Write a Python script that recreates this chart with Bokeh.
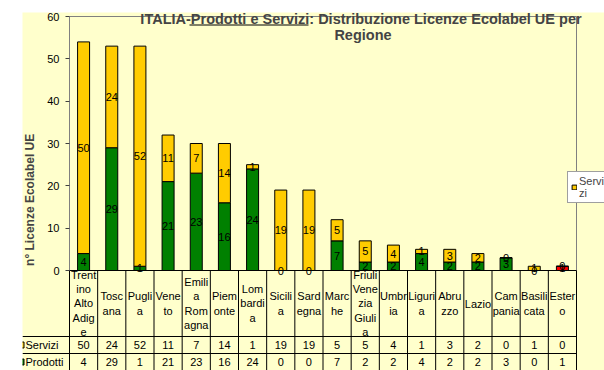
import math
from bokeh.plotting import figure
from bokeh.models import (ColumnDataSource, Range1d, FixedTicker, Label, Legend,
                          LegendItem, Spacer, LinearAxis)
from bokeh.layouts import column, row
from bokeh.embed import file_html
from bokeh.resources import INLINE
from bokeh.core.properties import value

# ---------------- data ----------------
regions = ["Trentino Alto Adige", "Toscana", "Puglia", "Veneto", "Emilia Romagna",
           "Piemonte", "Lombardia", "Sicilia", "Sardegna", "Marche",
           "Friuli Venezia Giulia", "Umbria", "Liguria", "Abruzzo", "Lazio",
           "Campania", "Basilicata", "Estero"]
region_labels = ["Trent\nino\nAlto\nAdig\ne", "Tosc\nana", "Pugli\na", "Vene\nto",
                 "Emili\na\nRom\nagna", "Piem\nonte", "Lom\nbardi\na", "Sicili\na",
                 "Sard\negna", "Marc\nhe", "Friuli\nVene\nzia\nGiuli\na", "Umbr\nia",
                 "Liguri\na", "Abru\nzzo", "Lazio", "Cam\npania", "Basili\ncata",
                 "Ester\no"]
servizi = [50, 24, 52, 11, 7, 14, 1, 19, 19, 5, 5, 4, 1, 3, 2, 0, 1, 0]
prodotti = [4, 29, 1, 21, 23, 16, 24, 0, 0, 7, 2, 2, 4, 2, 2, 3, 0, 1]
y_ticks = [0, 10, 20, 30, 40, 50, 60]
series_names = ["Servizi", "Prodotti"]
legend_text = "Servi\nzi"
title_line1 = "ITALIA-Prodotti e Servizi: Distribuzione Licenze Ecolabel UE  per"
title_line2 = "Regione"
y_title = "n\u00b0 Licenze  Ecolabel  UE"

# ---------------- layout (page pixels) ----------------
PX0, PY0, PX1, PY1 = 22, 12, 604, 370   # yellow chart area on the page
FL, FR, FT = 69, 576, 16                 # plot area
ZERO = 270
n = len(regions)
cat_w = (FR - FL) / n
ymax = y_ticks[-1]
ppu = (ZERO - FT) / ymax


def dx(px):
    return -0.5 + (px - FL) / cat_w


def dy(px):
    return (ZERO - px) / ppu


FONT = "Liberation Sans"
YELLOW = "#FFCC00"
GREEN = "#008000"
RED = "#FF0000"
BG = "#FFFFCC"
GRAY = "#808080"

p = figure(width=PX1 - PX0, height=PY1 - PY0,
           x_range=Range1d(dx(PX0), dx(PX1)), y_range=Range1d(dy(PY1), dy(PY0)),
           output_backend="svg", toolbar_location=None,
           x_axis_location=None, y_axis_location=None,
           min_border_left=0, min_border_right=0, min_border_top=0, min_border_bottom=0)
p.background_fill_color = BG
p.border_fill_color = BG
p.outline_line_color = None
p.xgrid.visible = False
p.ygrid.visible = False

# y axis drawn by the library at the plot-area's left edge
ax = LinearAxis(fixed_location=-0.5, ticker=FixedTicker(ticks=y_ticks))
ax.axis_line_color = None
ax.minor_tick_line_color = None
ax.major_tick_in = 0
ax.major_tick_out = 4
ax.major_label_standoff = 6
ax.major_tick_line_color = "#404040"
ax.major_label_text_font = FONT
ax.major_label_text_font_size = "11px"
ax.major_label_text_color = "black"
p.add_layout(ax, "left")

# plot-area borders (gray)
p.segment(x0=[-0.5, -0.5, n - 0.5], x1=[n - 0.5, -0.5, n - 0.5],
          y0=[ymax, ymax, ymax], y1=[ymax, 0, 0], line_color=GRAY, line_width=1)

xs = list(range(n))
src = ColumnDataSource(dict(
    x=xs,
    prod=prodotti,
    serv=servizi,
    top=[a + b for a, b in zip(prodotti, servizi)],
    pcol=[RED if r == "Estero" else GREEN for r in regions],
    prod_mid=[a / 2 for a in prodotti],
    serv_mid=[a + b / 2 for a, b in zip(prodotti, servizi)],
    prod_txt=[str(v) for v in prodotti],
    serv_txt=[str(v) for v in servizi],
    lab=region_labels,
))

BW = 12 / cat_w
rp = p.vbar(x="x", bottom=0, top="prod", width=BW, fill_color="pcol",
            line_color="black", line_width=1, source=src)
rs = p.vbar(x="x", bottom="prod", top="top", width=BW, fill_color=YELLOW,
            line_color="black", line_width=1, source=src)

txt_kw = dict(text_font=value(FONT), text_font_size="11px", text_color="black",
              text_align="center", text_baseline="middle", source=src)
p.text(x="x", y="prod_mid", text="prod_txt", **txt_kw)
p.text(x="x", y="serv_mid", text="serv_txt", **txt_kw)

# ---------------- data table ----------------
ROW_TOP, ROW_S, ROW_P, ROW_END = 270, 336, 353, 370
p.text(x="x", y=dy((ROW_TOP + ROW_S) / 2), text="lab", text_line_height=1.18, **txt_kw)
p.text(x="x", y=dy((ROW_S + ROW_P) / 2), text="serv_txt", **txt_kw)
p.text(x="x", y=dy((ROW_P + ROW_END) / 2), text="prod_txt", **txt_kw)

bounds = [k - 0.5 for k in range(n + 1)]
p.segment(x0=bounds, x1=bounds, y0=[0] * len(bounds), y1=[dy(ROW_END + 5)] * len(bounds),
          line_color="black", line_width=1)
p.segment(x0=[-0.5, dx(PX0), dx(PX0)], x1=[n - 0.5] * 3,
          y0=[0, dy(ROW_S), dy(ROW_P)], y1=[0, dy(ROW_S), dy(ROW_P)],
          line_color="black", line_width=1)

row_centers = [dy((ROW_S + ROW_P) / 2), dy((ROW_P + ROW_END) / 2)]
# legend keys of the table rows (partly cut by the chart edge, as in the original)
p.scatter(x=[dx(20.5)] * 2, y=row_centers, marker="square", size=6,
          fill_color=[YELLOW, GREEN], line_color="black", line_width=1)
for name, yc in zip(series_names, row_centers):
    p.add_layout(Label(x=dx(25), y=yc, text=name, text_color="black",
                       text_font=FONT, text_font_size="11px",
                       text_align="left", text_baseline="middle"))

# ---------------- titles ----------------
p.add_layout(Label(x=dx(362.5), y=dy(18.5), text=title_line1, text_font=FONT,
                   text_font_size="14.5px", text_font_style="bold",
                   text_align="center", text_baseline="alphabetic"))
p.add_layout(Label(x=dx(362.5), y=dy(34.5), text=title_line2, text_font=FONT,
                   text_font_size="14.5px", text_font_style="bold",
                   text_align="center", text_baseline="alphabetic"))
p.segment(x0=[dx(189)], x1=[dx(308)], y0=[dy(24.5)], y1=[dy(24.5)],
          line_color="black", line_width=1)

p.add_layout(Label(x=dx(29), y=dy(196), text=y_title, angle=math.pi / 2,
                   text_font=FONT, text_font_size="12px", text_font_style="bold",
                   text_align="center", text_baseline="middle"))

# ---------------- legend ----------------
legend = Legend(items=[LegendItem(label=legend_text, renderers=[rs])],
                location=(567 - PX0, PY1 - 203),
                background_fill_color="white", background_fill_alpha=1,
                border_line_color="#404040", border_line_width=1,
                label_text_font=FONT, label_text_font_size="11px",
                glyph_width=6, glyph_height=6, padding=3, margin=0,
                spacing=0, label_standoff=2)
p.add_layout(legend)

layout = column(Spacer(height=PY0), row(Spacer(width=PX0), p))
open("out.html", "w").write(file_html(layout, INLINE))
